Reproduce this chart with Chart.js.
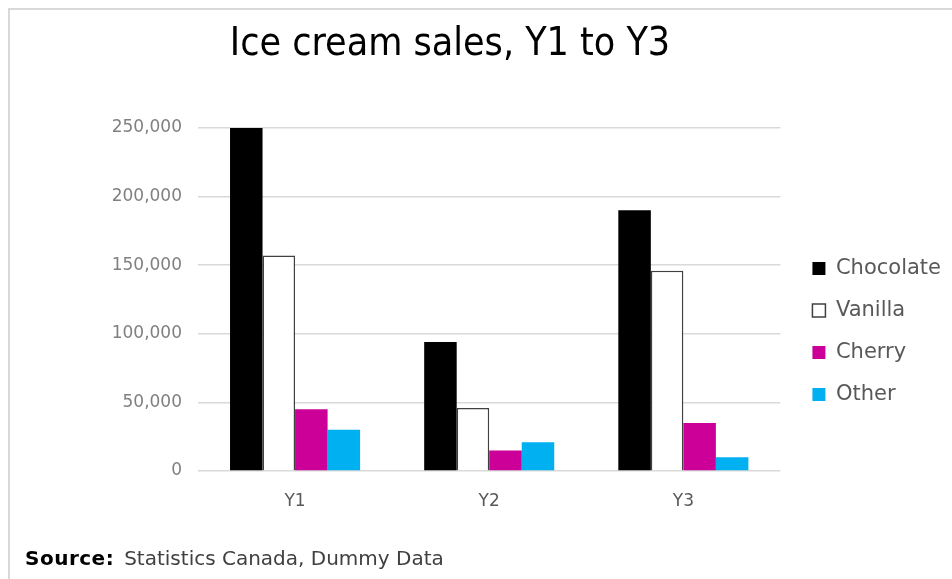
<!DOCTYPE html>
<html>
<head>
<meta charset="utf-8">
<script src="https://cdn.jsdelivr.net/npm/chart.js@4"></script>
<style>
  html, body { margin: 0; padding: 0; background: #fff; }
  #wrap { position: relative; width: 952px; height: 579px; overflow: hidden; }
  #frame { position: absolute; left: 8px; top: 8px; right: -4px; bottom: -4px;
           border-top: 2px solid #d9d9d9; border-left: 2px solid #d9d9d9; }
  #chart { position: absolute; left: 0; top: 0; }
  #title { position: absolute; left: 0; width: 900px; top: 19px; text-align: center;
           font-family: "DejaVu Sans Condensed", "DejaVu Sans", sans-serif; font-size: 39px; color: #000; }
  #source { position: absolute; left: 25px; top: 546px;
            font-family: "DejaVu Sans", Verdana, sans-serif; font-size: 20px; color: #404040; }
  #source b { color: #000; margin-right: 10px; letter-spacing: 0.5px; }
</style>
</head>
<body>
<div id="wrap">
  <div id="frame"></div>
  <canvas id="chart" width="952" height="579"></canvas>
  <div id="title">Ice cream sales, Y1 to Y3</div>
  <div id="source"><b>Source:</b>Statistics Canada, Dummy Data</div>
</div>
<script>
// --------------- Data ---------------
const years = ["Y1", "Y2", "Y3"];
const chocolate = [250000, 94000, 190000];
const vanilla = [157000, 46000, 146000];
const cherry = [45000, 15000, 35000];
const other = [30000, 21000, 10000];

const tickFont = { family: "DejaVu Sans, Verdana, sans-serif", size: 17 };

// nudge the legend a bit away from the plot without changing row spacing
const legendShift = {
  id: "legendShift",
  afterLayout(chart) {
    chart.legend.left += 11;
    chart.legend.right += 11;
  }
};

// --------------- Chart ---------------
const ctx = document.getElementById("chart").getContext("2d");
new Chart(ctx, {
  type: "bar",
  data: {
    labels: years,
    datasets: [
      { label: "Chocolate", data: chocolate, backgroundColor: "#000000", borderColor: "#000000", borderWidth: 0 },
      { label: "Vanilla", data: vanilla, backgroundColor: "#ffffff", borderColor: "#404040", borderWidth: 1.5 },
      { label: "Cherry", data: cherry, backgroundColor: "#cc0099", borderColor: "#cc0099", borderWidth: 0 },
      { label: "Other", data: other, backgroundColor: "#00b0f0", borderColor: "#00b0f0", borderWidth: 0 }
    ]
  },
  plugins: [legendShift],
  options: {
    responsive: false,
    animation: false,
    categoryPercentage: 0.67,
    barPercentage: 1.0,
    // bottom padding keeps the legend centred a little higher
    layout: { padding: { top: 128, left: 20, right: 12, bottom: 44 } },
    plugins: {
      title: { display: false },
      tooltip: { enabled: false },
      legend: {
        position: "right",
        labels: {
          font: { family: "DejaVu Sans, Verdana, sans-serif", size: 21 },
          color: "#595959",
          boxWidth: 13,
          boxHeight: 13,
          padding: 21
        }
      }
    },
    scales: {
      x: {
        grid: { display: false },
        border: { display: false },
        ticks: { color: "#595959", font: tickFont, padding: 12 },
        afterFit: scale => { scale.height = 64; }
      },
      y: {
        min: 0,
        max: 250000,
        grid: { color: "#d9d9d9", lineWidth: 1.5, drawTicks: false },
        border: { display: false },
        ticks: {
          stepSize: 50000,
          color: "#808080",
          font: tickFont,
          padding: 16,
          callback: v => v.toLocaleString("en-US")
        },
        afterFit: scale => { scale.width = 178; }
      }
    }
  }
});
</script>
</body>
</html>
